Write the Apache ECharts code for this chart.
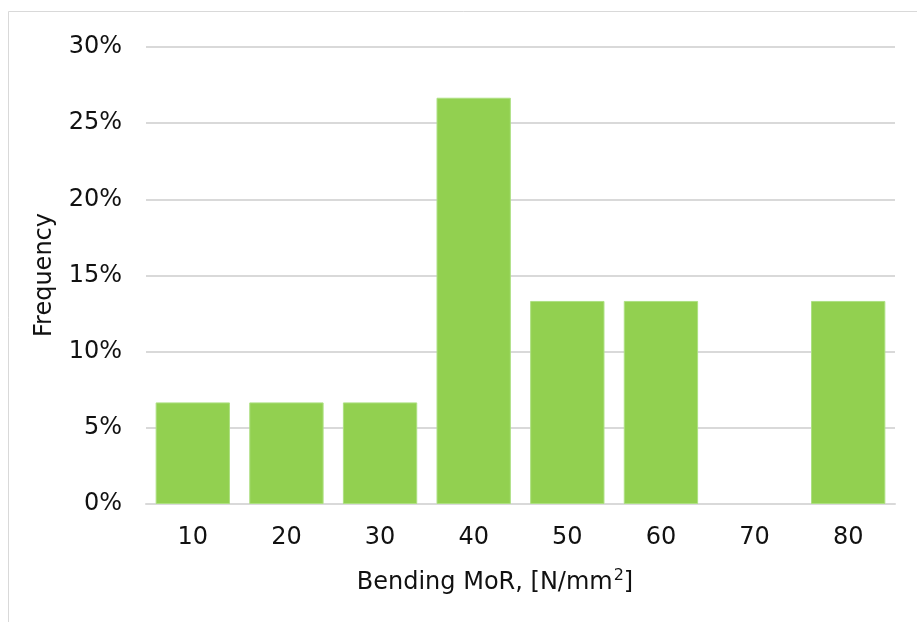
<!DOCTYPE html>
<html>
<head>
<meta charset="utf-8">
<script src="https://cdn.jsdelivr.net/npm/echarts@6/dist/echarts.min.js"></script>
<style>
  html, body { margin: 0; padding: 0; background: #fff; }
  #chart { width: 917px; height: 622px; }
</style>
</head>
<body>
<div id="chart"></div>
<script>
// Histogram of bending modulus of rupture (MoR)
const categories = ['10', '20', '30', '40', '50', '60', '70', '80'];
const frequency = [6.67, 6.67, 6.67, 26.67, 13.33, 13.33, 0, 13.33]; // percent
const yTicks = [0, 5, 10, 15, 20, 25, 30];

const FONT = 'DejaVu Sans';
const TEXT = '#111111';
const GRID = '#d9d9d9';
const FS = 24;

const chart = echarts.init(document.getElementById('chart'), null, { renderer: 'canvas' });
chart.setOption({
  animation: false,
  backgroundColor: '#fff',
  grid: { left: 146, right: 22, top: 47, bottom: 118, containLabel: false },
  xAxis: {
    type: 'category',
    data: categories,
    axisLine: { show: true, lineStyle: { color: GRID, width: 2 } },
    axisTick: { show: false },
    axisLabel: { color: TEXT, fontFamily: FONT, fontSize: FS, margin: 22 }
  },
  yAxis: {
    type: 'value',
    min: yTicks[0],
    max: yTicks[yTicks.length - 1],
    interval: 5,
    axisLine: { show: false },
    axisTick: { show: false },
    splitLine: { lineStyle: { color: GRID, width: 2 } },
    axisLabel: { color: TEXT, fontFamily: FONT, fontSize: FS, margin: 24, formatter: v => v + '%' }
  },
  series: [{
    type: 'bar',
    data: frequency.map(v => ({
      value: v,
      itemStyle: { borderWidth: v > 0 ? 1 : 0 }
    })),
    barCategoryGap: '20.6%',
    itemStyle: { color: '#92d050', borderColor: '#ade082', borderWidth: 1 }
  }],
  graphic: [
    {
      type: 'rect',
      shape: { x: 8.5, y: 11.5, width: 930, height: 640 },
      style: { fill: 'none', stroke: '#d9d9d9', lineWidth: 1 },
      silent: true
    },
    {
      type: 'text',
      x: 45, y: 275, rotation: Math.PI / 2,
      style: { text: 'Frequency', fill: TEXT, font: FS + 'px "DejaVu Sans"', align: 'center', verticalAlign: 'middle' }
    },
    {
      type: 'text',
      x: 495, y: 583,
      style: {
        text: 'Bending MoR, [N/mm{sup|2}]',
        fill: TEXT, font: FS + 'px "DejaVu Sans"', align: 'center', verticalAlign: 'middle',
        lineHeight: 30,
        rich: {
          sup: { fontSize: 16, fontFamily: FONT, fill: TEXT, verticalAlign: 'top', lineHeight: 30, padding: [0, 0, 10, 1] }
        }
      }
    }
  ]
});
</script>
</body>
</html>
